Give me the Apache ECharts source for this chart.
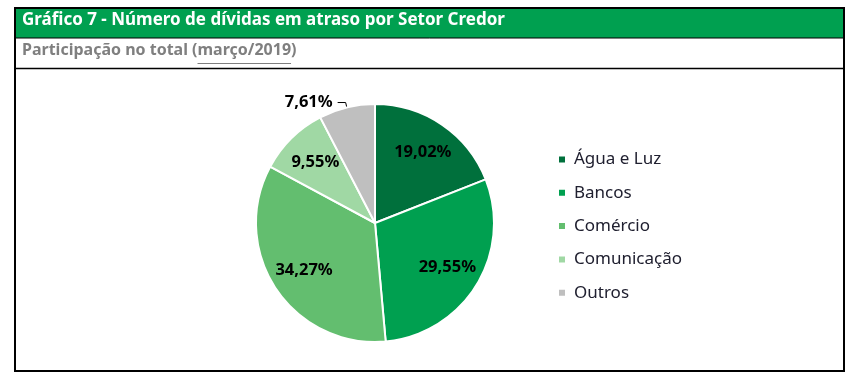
<!DOCTYPE html>
<html><head><meta charset="utf-8">
<script src="https://cdn.jsdelivr.net/npm/echarts@6/dist/echarts.min.js"></script>
<style>html,body{margin:0;padding:0;background:#fff}#c{width:856px;height:381px}</style>
</head><body><div id="c"></div>
<script>
var categories = ['Água e Luz', 'Bancos', 'Comércio', 'Comunicação', 'Outros'];
var values = [19.02, 29.55, 34.27, 9.55, 7.61];
var colors = ['#00703c', '#00a050', '#63be6f', '#a0d8a4', '#bfbfbf'];
var titleText = 'Gráfico 7 - Número de dívidas em atraso por Setor Credor';
var subPrefix = 'Participação no total (';
var subUnder = 'março/2019';
var subSuffix = ')';

var FONT = '"Noto Sans", "Open Sans", sans-serif';
function fmt(v){ return v.toFixed(2).replace('.', ',') + '%'; }

var chart = echarts.init(document.getElementById('c'), null, {renderer:'canvas'});

var SUBFONT = 'bold 16px ' + FONT;
var ctx = document.createElement('canvas').getContext('2d');
ctx.font = SUBFONT;
var x0 = 22 + ctx.measureText(subPrefix).width;
var x1 = x0 + ctx.measureText(subUnder).width;

var mainData = categories.map(function(n,i){
  var d = {name:n, value:values[i], itemStyle:{color:colors[i]}};
  if (i === categories.length-1) {
    d.label = {show:true, position:'outside', formatter:function(p){return fmt(p.value);}};
    d.labelLine = {show:true};
  }
  return d;
});
var labelData = categories.map(function(n,i){
  return {name:n, value:values[i], label:{show: i !== categories.length-1}};
});

chart.setOption({
  animation:false,
  graphic:[
    {type:'rect', shape:{x:15, y:8, width:829, height:30}, style:{fill:'#00a050'}, z:0},
    {type:'line', shape:{x1:15, y1:38, x2:844, y2:38}, style:{stroke:'#000', lineWidth:1}},
    {type:'line', shape:{x1:15, y1:68.5, x2:844, y2:68.5}, style:{stroke:'#000', lineWidth:1.5}},
    {type:'rect', shape:{x:15, y:8, width:829, height:363}, style:{fill:'none', stroke:'#000', lineWidth:2}},
    {type:'text', left:22, top:12, style:{text:titleText, fill:'#fff', font:'bold 17px ' + FONT}},
    {type:'text', left:22, top:42, style:{text:subPrefix + subUnder + subSuffix, fill:'#7f7f7f', font:SUBFONT}},
    {type:'line', shape:{x1:x0, y1:63.5, x2:x1, y2:63.5}, style:{stroke:'#7f7f7f', lineWidth:1}}
  ],
  legend:{
    orient:'vertical', left:552, top:146,
    data:categories,
    itemWidth:8, itemHeight:8, itemGap:16.3, icon:'rect',
    textStyle:{fontFamily:FONT, fontSize:17, color:'#202030', padding:[0,0,0,3]}
  },
  series:[
    {
      type:'pie', name:'main', center:[375,223], radius:[0,119],
      startAngle:90, clockwise:true, silent:true,
      itemStyle:{borderColor:'#fff', borderWidth:2},
      label:{show:false, color:'#000', fontFamily:FONT, fontWeight:'bold', fontSize:16.5},
      labelLine:{show:false, length:5, length2:8, lineStyle:{color:'#000', width:1}},
      data:mainData, z:2
    },
    {
      type:'pie', name:'labels', center:[375,223], radius:[45,119],
      startAngle:90, clockwise:true, silent:true, legendHoverLink:false,
      itemStyle:{color:'rgba(0,0,0,0)', borderWidth:0},
      label:{show:true, position:'inside', color:'#000', fontFamily:FONT, fontWeight:'bold', fontSize:16.5,
        formatter:function(p){return fmt(p.value);}},
      labelLine:{show:false},
      data:labelData, z:3
    }
  ]
});
</script></body></html>
